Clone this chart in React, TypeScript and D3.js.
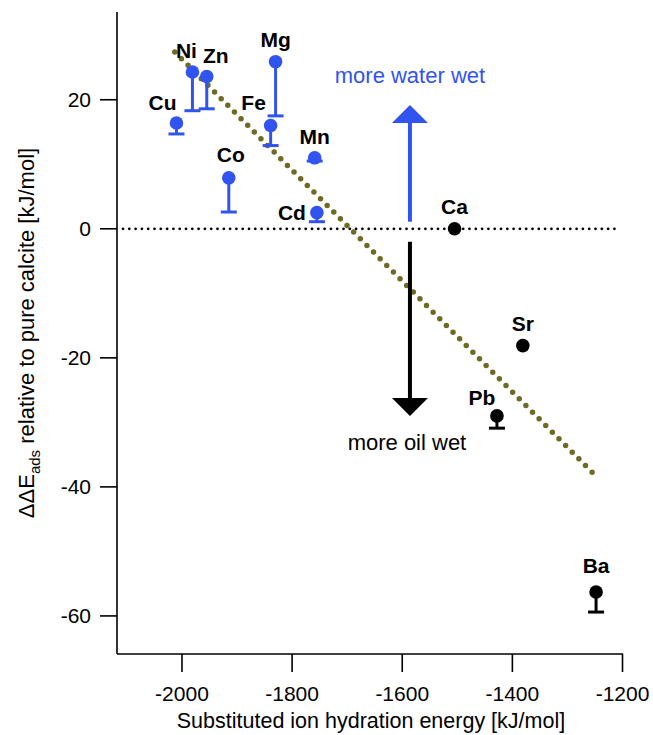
import * as d3 from 'd3';

// hydration energies [kJ/mol] and adsorption energy differences [kJ/mol]
const ions = ['Cu', 'Ni', 'Zn', 'Co', 'Fe', 'Mg', 'Mn', 'Cd', 'Ca', 'Sr', 'Pb', 'Ba'];
const hydration = [-2010, -1981, -1955, -1915, -1839, -1830, -1759, -1755, -1505, -1381, -1428, -1248];
const deltaE = [16.4, 24.3, 23.6, 7.9, 16.0, 25.9, 11.0, 2.5, 0, -18.1, -29.0, -56.3];
const lowerErr = [14.7, 18.3, 18.6, 2.6, 12.9, 17.5, 10.5, 1.1, 0, -18.1, -30.9, -59.4];
const waterWet = [true, true, true, true, true, true, true, true, false, false, false, false];

const xTicks = [-2000, -1800, -1600, -1400, -1200];
const yTicks = [-60, -40, -20, 0, 20];

// linear trend drawn through the data
const trendLine = [
  { x: -2013, y: 27.4 },
  { x: -1245, y: -38.6 },
];

// annotation arrows: x position, from, to
const arrowX = -1586;
const waterArrow = [1.1, 19.2];
const oilArrow = [-2.0, -29.0];

// label offsets in px (dx, dy, anchor)
const labelPos: Record<string, [number, number, string]> = {
  Cu: [-14, -20, 'middle'],
  Ni: [-6, -22, 'middle'],
  Zn: [9, -21, 'middle'],
  Co: [2, -23, 'middle'],
  Fe: [-17, -23, 'middle'],
  Mg: [0, -22, 'middle'],
  Mn: [0, -21, 'middle'],
  Cd: [-11, 0, 'end'],
  Ca: [0, -22, 'middle'],
  Sr: [0, -22, 'middle'],
  Pb: [-15, -18, 'middle'],
  Ba: [0, -27, 'middle'],
};

const W = 653;
const H = 735;
const M = { left: 117, right: 623, top: 12, bottom: 654 };
const BLUE = '#3153f0';
const OLIVE = '#6f6a23';
const FONT = 'Liberation Sans, Arial, sans-serif';

export default function App() {
  const x = d3.scaleLinear().domain([-2118, -1200]).range([M.left, 622.5]);
  const y = d3.scaleLinear().domain([-65.9, 33.6]).range([M.bottom, M.top]);

  const line = d3
    .line<{ x: number; y: number }>()
    .x((d) => x(d.x))
    .y((d) => y(d.y));

  const ax = x(arrowX);

  return (
    <svg
      width={W}
      height={H}
      style={{ position: 'absolute', left: 0, top: 0, background: '#fff' }}
      fontFamily={FONT}
    >
      {/* zero line */}
      <line
        x1={123}
        x2={618}
        y1={y(0)}
        y2={y(0)}
        stroke="#000"
        strokeWidth={2.8}
        strokeDasharray="0 6.3"
        strokeLinecap="round"
      />

      {/* trend */}
      <path
        d={line(trendLine) ?? ''}
        fill="none"
        stroke={OLIVE}
        strokeWidth={5.5}
        strokeDasharray="0 9.4"
        strokeLinecap="round"
      />

      {/* axes */}
      <g stroke="#000" strokeWidth={1.6} fill="none">
        <line x1={M.left} x2={M.left} y1={M.top} y2={M.bottom} />
        <line x1={M.left} x2={M.right} y1={M.bottom} y2={M.bottom} />
        {yTicks.map((t) => (
          <line key={t} x1={M.left - 17} x2={M.left} y1={y(t)} y2={y(t)} />
        ))}
        {xTicks.map((t) => (
          <line key={t} x1={x(t)} x2={x(t)} y1={M.bottom} y2={M.bottom + 18} />
        ))}
      </g>
      <g fontSize={21} fill="#000">
        {yTicks.map((t) => (
          <text key={t} x={91} y={y(t) + 7.5} textAnchor="end">
            {t}
          </text>
        ))}
        {xTicks.map((t) => (
          <text key={t} x={x(t)} y={701} textAnchor="middle">
            {t}
          </text>
        ))}
      </g>
      <text x={371} y={728} fontSize={21.5} textAnchor="middle">
        Substituted ion hydration energy [kJ/mol]
      </text>
      <text transform="translate(34,333) rotate(-90)" fontSize={22} textAnchor="middle">
        ΔΔE<tspan fontSize={15} dy={6}>ads</tspan>
        <tspan dy={-6}> relative to pure calcite [kJ/mol]</tspan>
      </text>

      {/* arrows */}
      <g>
        <line x1={ax} x2={ax} y1={y(waterArrow[0])} y2={y(waterArrow[1]) + 16} stroke={BLUE} strokeWidth={4} />
        <path
          d={`M${ax},${y(waterArrow[1])} L${ax - 18},${y(waterArrow[1]) + 18} L${ax + 18},${y(waterArrow[1]) + 18} Z`}
          fill={BLUE}
        />
        <line x1={ax} x2={ax} y1={y(oilArrow[0])} y2={y(oilArrow[1]) - 16} stroke="#000" strokeWidth={4} />
        <path
          d={`M${ax},${y(oilArrow[1])} L${ax - 18},${y(oilArrow[1]) - 18} L${ax + 18},${y(oilArrow[1]) - 18} Z`}
          fill="#000"
        />
        <text x={ax} y={83} fontSize={22} fill={BLUE} textAnchor="middle">
          more water wet
        </text>
        <text x={ax - 3} y={450} fontSize={22} fill="#000" textAnchor="middle">
          more oil wet
        </text>
      </g>

      {/* points */}
      {ions.map((ion, i) => {
        const c = waterWet[i] ? BLUE : '#000';
        const px = x(hydration[i]);
        const py = y(deltaE[i]);
        const pe = y(lowerErr[i]);
        const [dx, dy, anchor] = labelPos[ion];
        return (
          <g key={ion}>
            {pe - py > 0.5 && (
              <g stroke={c} strokeWidth={3}>
                <line x1={px} x2={px} y1={py} y2={pe} />
                <line x1={px - 8} x2={px + 8} y1={pe} y2={pe} />
              </g>
            )}
            <circle cx={px} cy={py} r={6.8} fill={c} />
            <text
              x={px + dx}
              y={py + dy + 7.5}
              fontSize={21}
              fontWeight="bold"
              textAnchor={anchor}
              fill="#000"
            >
              {ion}
            </text>
          </g>
        );
      })}
    </svg>
  );
}
